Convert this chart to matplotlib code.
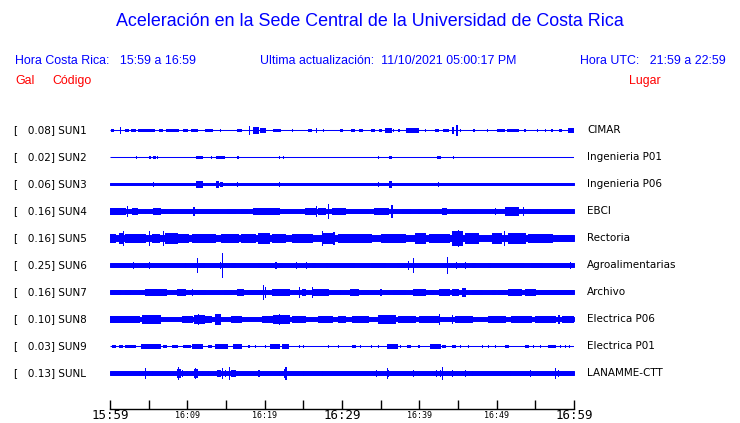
import matplotlib
matplotlib.use("Agg")
import matplotlib.pyplot as plt
from matplotlib.transforms import blended_transform_factory

# ---------------------- DATA ----------------------
TITLE = "Aceleración en la Sede Central de la Universidad de Costa Rica"
HORA_CR = "Hora Costa Rica:   15:59 a 16:59"
ACTUALIZACION = "Ultima actualización:  11/10/2021 05:00:17 PM"
HORA_UTC = "Hora UTC:   21:59 a 22:59"

CODES = ["SUN1", "SUN2", "SUN3", "SUN4", "SUN5", "SUN6", "SUN7", "SUN8", "SUN9", "SUNL"]
PEAK_GAL = [0.08, 0.02, 0.06, 0.16, 0.16, 0.25, 0.16, 0.10, 0.03, 0.13]
PLACES = ["CIMAR", "Ingenieria P01", "Ingenieria P06", "EBCI", "Rectoria",
          "Agroalimentarias", "Archivo", "Electrica P06", "Electrica P01", "LANAMME-CTT"]

# background noise half-amplitude (Gal) of each trace
BACKGROUND_GAL = [0.0, 0.0, 0.027, 0.033, 0.06, 0.033, 0.033, 0.043, 0.0, 0.033]

# time axis, minutes after 15:59
TICK_MIN = [0, 5, 10, 15, 20, 25, 30, 35, 40, 45, 50, 55, 60]
TICK_LABELS = ["15:59", "", "16:09", "", "16:19", "", "16:29", "", "16:39", "", "16:49", "", "16:59"]
BIG_LABELS = ["15:59", "16:29", "16:59"]

# bursts: (start min, end min, half amplitude Gal)
SUN1_EVENTS = [
    (0.1, 0.4, 0.02), (1.3, 1.3, 0.053), (1.9, 2.3, 0.027), (2.7, 3.2, 0.02), (3.6, 4.5, 0.027),
    (4.7, 5.0, 0.02), (5.2, 5.7, 0.027), (6.3, 6.7, 0.02), (7.3, 7.8, 0.027), (7.9, 8.8, 0.027),
    (9.5, 9.9, 0.027), (10.5, 11.2, 0.02), (12.3, 13.2, 0.027), (14.2, 14.2, 0.027), (16.4, 17.0, 0.027),
    (18.0, 18.0, 0.073), (18.5, 19.2, 0.053), (19.4, 20.0, 0.033), (21.1, 22.0, 0.027), (23.5, 23.5, 0.02),
    (25.6, 26.0, 0.02), (26.6, 26.6, 0.033), (27.5, 27.5, 0.027), (29.7, 30.0, 0.02), (31.1, 31.5, 0.02),
    (32.2, 32.6, 0.027), (33.7, 34.1, 0.027), (34.8, 35.1, 0.02), (35.5, 36.4, 0.033), (36.6, 36.6, 0.02),
    (37.3, 37.3, 0.02), (38.3, 39.8, 0.04), (40.7, 40.7, 0.02), (42.0, 42.4, 0.027), (43.0, 43.7, 0.02),
    (44.2, 44.4, 0.053), (44.8, 44.8, 0.093), (45.3, 45.3, 0.02), (47.0, 47.0, 0.02), (48.7, 48.7, 0.02),
    (50.0, 50.9, 0.02), (51.3, 52.8, 0.027), (53.6, 53.6, 0.02), (55.2, 55.2, 0.02), (56.2, 56.2, 0.02),
    (57.1, 57.1, 0.02), (58.0, 58.3, 0.027), (59.2, 60.0, 0.047),
]
SUN2_EVENTS = [
    (3.4, 3.4, 0.013), (5.0, 5.2, 0.02), (5.5, 5.8, 0.02), (6.1, 6.1, 0.013), (11.1, 11.9, 0.027),
    (13.1, 13.1, 0.013), (13.7, 14.7, 0.027), (16.4, 16.6, 0.027), (21.8, 21.9, 0.027), (22.4, 22.4, 0.02),
    (34.7, 34.7, 0.02), (36.1, 36.3, 0.027), (42.3, 42.7, 0.027), (44.4, 44.4, 0.02),
]
SUN3_EVENTS = [
    (5.6, 5.6, 0.04), (11.1, 11.9, 0.06), (13.7, 14.0, 0.06), (14.2, 14.5, 0.04), (16.4, 16.4, 0.04),
    (21.8, 21.9, 0.047), (34.7, 34.7, 0.04), (36.1, 36.3, 0.053), (42.4, 42.4, 0.047),
]
SUN4_EVENTS = [
    (0.0, 1.1, 0.053), (1.3, 1.9, 0.06), (2.2, 2.2, 0.1), (2.8, 3.5, 0.067), (4.5, 4.5, 0.04),
    (5.6, 6.5, 0.067), (6.7, 7.1, 0.047), (7.8, 8.2, 0.04), (9.1, 10.3, 0.04), (10.8, 10.8, 0.08),
    (11.0, 14.0, 0.04), (15.1, 16.2, 0.047), (17.0, 17.7, 0.04), (18.5, 20.9, 0.06), (21.1, 21.8, 0.053),
    (22.0, 23.1, 0.04), (24.6, 25.2, 0.047), (25.2, 26.5, 0.06), (26.6, 26.6, 0.093), (26.9, 27.8, 0.06),
    (28.2, 28.2, 0.147), (28.7, 30.4, 0.053), (30.8, 33.4, 0.04), (34.1, 36.0, 0.053), (36.4, 36.4, 0.12),
    (36.9, 36.9, 0.047), (37.7, 38.8, 0.04), (39.9, 39.9, 0.047), (42.0, 42.0, 0.04), (42.9, 43.5, 0.06),
    (44.2, 44.2, 0.04), (45.5, 47.2, 0.04), (49.8, 49.8, 0.053), (51.1, 52.8, 0.073), (53.4, 53.4, 0.08),
    (54.1, 55.6, 0.04), (56.5, 56.5, 0.04), (58.2, 59.5, 0.04), (59.7, 60.0, 0.04),
]
SUN5_EVENTS = [
    (0.0, 0.6, 0.08), (1.1, 1.5, 0.093), (1.7, 1.7, 0.147), (1.9, 4.5, 0.08), (5.0, 5.0, 0.133),
    (5.4, 6.3, 0.08), (6.8, 6.8, 0.133), (7.1, 8.6, 0.093), (8.8, 10.1, 0.073), (10.6, 13.6, 0.073),
    (14.4, 16.6, 0.073), (17.0, 18.8, 0.073), (19.2, 20.5, 0.093), (20.9, 22.6, 0.073), (23.5, 26.1, 0.08),
    (27.4, 27.4, 0.133), (27.6, 28.7, 0.093), (28.9, 28.9, 0.12), (29.5, 33.8, 0.073), (35.1, 38.1, 0.08),
    (39.4, 40.7, 0.093), (41.2, 43.8, 0.08), (44.2, 45.5, 0.133), (45.0, 45.0, 0.16), (45.9, 47.6, 0.093),
    (49.4, 50.6, 0.107), (50.9, 50.9, 0.133), (51.5, 53.7, 0.093), (54.1, 57.1, 0.08), (57.5, 60.0, 0.067),
]
SUN6_EVENTS = [
    (3.0, 3.0, 0.053), (5.0, 5.0, 0.067), (9.7, 9.7, 0.04), (11.2, 11.2, 0.147), (11.6, 12.1, 0.04),
    (14.2, 14.2, 0.067), (14.5, 14.5, 0.233), (15.7, 16.2, 0.047), (19.2, 20.9, 0.04), (21.4, 21.4, 0.067),
    (22.0, 22.2, 0.04), (24.0, 24.0, 0.053), (25.3, 25.3, 0.067), (26.1, 26.5, 0.04), (28.0, 28.0, 0.04),
    (31.0, 31.5, 0.04), (33.8, 35.6, 0.037), (37.1, 38.1, 0.04), (38.5, 38.5, 0.08), (39.2, 39.2, 0.133),
    (43.6, 43.6, 0.167), (44.7, 44.7, 0.053), (45.9, 45.9, 0.067), (46.8, 47.2, 0.04), (48.9, 49.1, 0.04),
    (53.0, 53.4, 0.04), (54.5, 55.8, 0.04), (59.5, 59.5, 0.053),
]
SUN7_EVENTS = [
    (0.1, 1.3, 0.047), (1.9, 2.6, 0.04), (3.7, 3.7, 0.04), (4.5, 7.3, 0.053), (8.6, 9.7, 0.053),
    (10.6, 10.6, 0.067), (11.0, 12.3, 0.047), (14.7, 15.7, 0.047), (16.4, 17.2, 0.06), (17.7, 19.6, 0.047),
    (19.8, 19.8, 0.147), (20.0, 20.0, 0.093), (20.9, 23.1, 0.053), (24.4, 24.4, 0.093), (24.8, 25.2, 0.053),
    (26.1, 26.1, 0.093), (26.3, 28.2, 0.06), (29.7, 29.7, 0.04), (31.0, 32.1, 0.06), (32.5, 33.4, 0.04),
    (34.9, 35.1, 0.06), (36.6, 38.1, 0.047), (39.2, 40.7, 0.053), (41.4, 41.8, 0.047), (42.5, 43.8, 0.06),
    (44.2, 45.0, 0.06), (45.5, 45.9, 0.08), (46.8, 48.1, 0.047), (49.4, 49.8, 0.047), (50.2, 51.1, 0.047),
    (51.5, 53.2, 0.06), (53.7, 55.0, 0.053), (55.4, 57.1, 0.047), (57.3, 59.7, 0.04),
]
SUN8_EVENTS = [
    (0.0, 3.7, 0.06), (4.1, 6.5, 0.073), (9.3, 10.6, 0.053), (10.8, 12.1, 0.087), (11.4, 11.4, 0.107),
    (12.3, 13.1, 0.06), (13.6, 14.2, 0.093), (13.8, 13.8, 0.107), (15.7, 17.0, 0.067), (19.6, 20.9, 0.06),
    (21.1, 23.1, 0.073), (21.8, 21.8, 0.093), (23.5, 25.2, 0.06), (26.9, 28.7, 0.067), (29.5, 30.4, 0.06),
    (31.3, 33.4, 0.06), (34.7, 36.9, 0.073), (36.2, 36.2, 0.087), (37.3, 39.4, 0.06), (39.9, 42.5, 0.06),
    (42.5, 42.5, 0.093), (44.2, 44.2, 0.08), (44.6, 46.8, 0.067), (48.9, 51.1, 0.06), (51.9, 54.5, 0.06),
    (55.0, 57.5, 0.067), (58.0, 58.0, 0.08), (58.4, 60.0, 0.06),
]
SUN9_EVENTS = [
    (0.2, 0.6, 0.02), (1.1, 1.5, 0.027), (1.9, 2.4, 0.02), (2.6, 3.2, 0.02), (4.0, 6.5, 0.033),
    (6.9, 7.3, 0.02), (8.0, 8.6, 0.027), (9.5, 10.3, 0.027), (10.6, 11.9, 0.033), (12.7, 13.1, 0.027),
    (13.6, 15.1, 0.033), (15.9, 17.0, 0.033), (17.9, 17.9, 0.02), (18.8, 18.8, 0.027), (20.0, 20.0, 0.02),
    (20.7, 21.8, 0.033), (22.2, 23.0, 0.033), (24.4, 24.4, 0.02), (25.0, 25.0, 0.02), (28.2, 28.2, 0.02),
    (29.5, 29.5, 0.02), (31.3, 31.7, 0.02), (32.3, 32.3, 0.02), (33.8, 33.8, 0.02), (34.7, 34.7, 0.027),
    (35.8, 37.1, 0.033), (37.5, 37.5, 0.027), (38.4, 38.8, 0.02), (39.9, 39.9, 0.02), (41.4, 42.7, 0.033),
    (42.9, 43.3, 0.027), (44.2, 44.6, 0.027), (45.3, 45.3, 0.02), (46.3, 46.3, 0.02), (48.1, 48.1, 0.02),
    (48.9, 48.9, 0.027), (49.8, 49.8, 0.02), (51.1, 51.5, 0.027), (53.7, 54.1, 0.027), (54.7, 54.7, 0.02),
    (55.6, 55.6, 0.02), (56.7, 57.5, 0.027), (58.2, 58.2, 0.02), (58.8, 58.8, 0.02), (59.3, 59.3, 0.02),
]
SUNL_EVENTS = [
    (3.8, 3.8, 0.04), (4.5, 4.5, 0.093), (5.4, 5.4, 0.047), (8.6, 9.1, 0.08), (8.8, 8.8, 0.12),
    (9.3, 9.3, 0.067), (9.9, 9.9, 0.04), (10.8, 11.2, 0.08), (11.0, 11.0, 0.093), (11.9, 11.9, 0.04),
    (12.7, 12.7, 0.04), (13.8, 14.2, 0.06), (14.5, 14.5, 0.1), (14.9, 14.9, 0.053), (15.4, 15.4, 0.127),
    (15.7, 16.2, 0.067), (16.4, 16.4, 0.04), (19.2, 19.2, 0.053), (21.8, 21.8, 0.047), (22.5, 22.5, 0.08),
    (22.7, 22.7, 0.127), (25.0, 25.0, 0.04), (27.4, 27.4, 0.04), (34.4, 34.4, 0.067), (35.8, 35.8, 0.093),
    (35.9, 35.9, 0.067), (39.2, 39.2, 0.053), (39.9, 39.9, 0.04), (42.2, 42.2, 0.053), (42.7, 42.7, 0.067),
    (42.9, 42.9, 0.127), (44.2, 44.2, 0.067), (45.9, 45.9, 0.053), (46.8, 46.8, 0.04), (51.7, 51.7, 0.04),
    (54.3, 54.3, 0.06), (57.5, 57.5, 0.093), (57.9, 57.9, 0.053),
]
EVENTS = [SUN1_EVENTS, SUN2_EVENTS, SUN3_EVENTS, SUN4_EVENTS, SUN5_EVENTS,
          SUN6_EVENTS, SUN7_EVENTS, SUN8_EVENTS, SUN9_EVENTS, SUNL_EVENTS]
# ---------------------------------------------------

BLUE = "#0000ff"
RED = "#ff0000"
ROW_GAP = 0.54      # Gal between neighbouring traces
MIN_W = 0.02        # a single spike, in minutes (the edge line gives it ~1 px)
W, H = 740, 423


def fx(px):
    return px / W


def fy(py):
    return 1 - py / H


fig = plt.figure(figsize=(W / 100, H / 100), dpi=100)
fig.patch.set_facecolor("white")

hdr = dict(family="Liberation Sans", va="center")
fig.text(0.5, fy(22), TITLE, ha="center", color=BLUE, fontsize=12.9, **hdr)
fig.text(fx(15), fy(61), HORA_CR, ha="left", color=BLUE, fontsize=8.9, **hdr)
fig.text(fx(260), fy(61), ACTUALIZACION, ha="left", color=BLUE, fontsize=8.9, **hdr)
fig.text(fx(726), fy(61), HORA_UTC, ha="right", color=BLUE, fontsize=8.9, **hdr)
fig.text(fx(15), fy(81), "Gal", ha="left", color=RED, fontsize=8.9, **hdr)
fig.text(fx(52), fy(81), "Código", ha="left", color=RED, fontsize=8.9, **hdr)
fig.text(fx(629), fy(81), "Lugar", ha="left", color=RED, fontsize=8.9, **hdr)

# trace area: 15:59 at x=110 px, 16:59 at x=574 px, time axis at y=409 px
ax = fig.add_axes([fx(110), 14 / H, 464 / W, 293 / H])
n = len(CODES)
ax.set_xlim(0, 60)
ax.set_ylim(-(n - 1) * ROW_GAP - 0.72, 0.28)
row_tf = blended_transform_factory(fig.transFigure, ax.transData)

for i in range(n):
    y0 = -i * ROW_GAP
    bg = BACKGROUND_GAL[i]
    if bg > 0:
        ax.fill_between([0, 60], y0 - bg, y0 + bg, facecolor=BLUE, edgecolor=BLUE,
                        linewidth=0.7, antialiased=False)
    ax.plot([0, 60], [y0, y0], color=BLUE, linewidth=0.75, solid_capstyle="butt")

    ev = EVENTS[i]
    centers = [(s + e) / 2 for s, e, a in ev]
    widths = [max(e - s, MIN_W) for s, e, a in ev]
    heights = [2 * a for s, e, a in ev]
    bottoms = [y0 - a for s, e, a in ev]
    ax.bar(centers, heights, width=widths, bottom=bottoms, color=BLUE,
           edgecolor=BLUE, linewidth=0.7, antialiased=False)

    # labels left and right of each trace
    fig.text(fx(14), y0, f"[   {PEAK_GAL[i]:.2f}] {CODES[i]}", fontsize=7.5,
             family="DejaVu Sans", va="center", ha="left", transform=row_tf)
    fig.text(fx(587), y0, PLACES[i], fontsize=7.5, family="DejaVu Sans",
             va="center", ha="left", transform=row_tf)

for side in ["top", "left", "right"]:
    ax.spines[side].set_visible(False)
ax.spines["bottom"].set_linewidth(1.0)
ax.set_yticks([])
ax.set_xticks(TICK_MIN)
ax.set_xticklabels(TICK_LABELS, family="DejaVu Sans Mono")
ax.tick_params(axis="x", direction="in", length=6.5, width=1.0, pad=5)
for lab in ax.get_xticklabels():
    lab.set_verticalalignment("center")
    lab.set_fontsize(9 if lab.get_text() in BIG_LABELS else 6)

fig.savefig("out.png", dpi=100, facecolor="white")
